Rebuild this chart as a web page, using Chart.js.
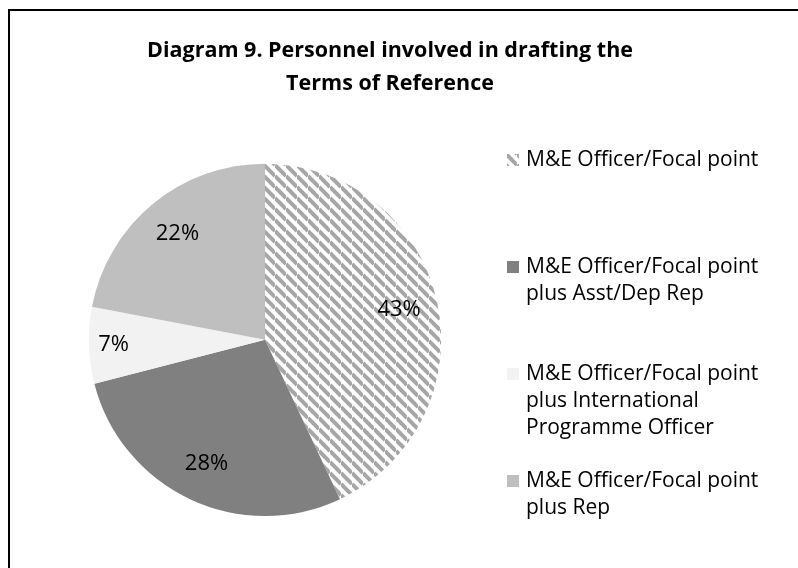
<!DOCTYPE html>
<html>
<head>
<meta charset="utf-8">
<script src="https://cdn.jsdelivr.net/npm/chart.js@4"></script>
<style>
  html, body { margin: 0; padding: 0; background: #fff; overflow: hidden; }
  #frame { position: absolute; left: 8px; top: 9px; width: 1000px; height: 1000px;
           border-left: 2px solid #000; border-top: 2px solid #000; }
  #wrap { position: absolute; left: 0; top: 0; width: 798px; height: 568px; }
</style>
</head>
<body>
<div id="frame"></div>
<div id="wrap"><canvas id="myChart" width="798" height="568"></canvas></div>
<script>
const titleLines = ['Diagram 9. Personnel involved in drafting the', 'Terms of Reference'];
const categories = [
  ['M&E Officer/Focal point'],
  ['M&E Officer/Focal point', 'plus Asst/Dep Rep'],
  ['M&E Officer/Focal point', 'plus International', 'Programme Officer'],
  ['M&E Officer/Focal point', 'plus Rep']
];
const shares = [43, 28, 7, 22];

// diagonal stripes for the first slice
function stripes() {
  const c = document.createElement('canvas');
  c.width = 11; c.height = 11;
  const g = c.getContext('2d');
  g.fillStyle = '#ffffff';
  g.fillRect(0, 0, 11, 11);
  g.strokeStyle = '#a6a6a6';
  g.lineWidth = 4;
  for (const k of [-11, 0, 11]) {
    g.beginPath();
    g.moveTo(0, k);
    g.lineTo(11, 11 + k);
    g.stroke();
  }
  return g.createPattern(c, 'repeat');
}
const sliceColors = [stripes(), '#808080', '#f2f2f2', '#bfbfbf'];

const textFont = '"Open Sans", sans-serif';

// legend drawn in its own layout box on the right
const sideLegend = {
  id: 'sideLegend',
  start(chart) {
    const box = {
      position: 'right', weight: 0, fullSize: false, options: {},
      left: 0, top: 0, right: 0, bottom: 0, width: 0, height: 0,
      isHorizontal() { return false; },
      update(maxWidth, maxHeight) { this.width = 250; this.height = maxHeight; },
      getPadding() { return { top: 0, left: 0, right: 0, bottom: 0 }; },
      draw() {
        const ctx = chart.ctx;
        const labels = chart.data.labels;
        const colors = chart.data.datasets[0].backgroundColor;
        ctx.save();
        ctx.font = '21px ' + textFont;
        ctx.textBaseline = 'alphabetic';
        ctx.textAlign = 'left';
        labels.forEach((lines, i) => {
          const base = 166 + i * 107;
          ctx.fillStyle = colors[i];
          ctx.fillRect(this.left + 47, base - 12, 12, 12);
          ctx.fillStyle = '#000';
          lines.forEach((t, j) => ctx.fillText(t, this.left + 66, base + j * 27));
        });
        ctx.restore();
      }
    };
    Chart.layouts.addBox(chart, box);
  }
};

// percentage labels inside the slices
const sliceLabels = {
  id: 'sliceLabels',
  afterDatasetsDraw(chart) {
    const ctx = chart.ctx;
    const data = chart.data.datasets[0].data;
    const total = data.reduce((a, b) => a + b, 0);
    ctx.save();
    ctx.font = '22px ' + textFont;
    ctx.fillStyle = '#000';
    ctx.textAlign = 'center';
    ctx.textBaseline = 'middle';
    chart.getDatasetMeta(0).data.forEach((arc, i) => {
      const p = arc.getProps(['x', 'y', 'startAngle', 'endAngle', 'outerRadius'], true);
      const mid = (p.startAngle + p.endAngle) / 2;
      const f = data[i] / total < 0.1 ? 0.86 : 0.78;
      ctx.fillText(Math.round(data[i] / total * 100) + '%',
        p.x + Math.cos(mid) * p.outerRadius * f,
        p.y + Math.sin(mid) * p.outerRadius * f);
    });
    ctx.restore();
  }
};

const ctx = document.getElementById('myChart').getContext('2d');
const chart = new Chart(ctx, {
  type: 'pie',
  data: {
    labels: categories,
    datasets: [{
      data: shares,
      backgroundColor: sliceColors,
      borderWidth: 0
    }]
  },
  options: {
    responsive: false,
    animation: false,
    layout: { padding: { left: 70, right: 88, top: 0, bottom: 52 } },
    plugins: {
      legend: { display: false },
      tooltip: { enabled: false },
      title: {
        display: true,
        text: titleLines,
        color: '#000',
        font: { family: textFont, size: 21.5, weight: 'bold', lineHeight: 1.55 },
        padding: { top: 34, bottom: 63 }
      }
    }
  },
  plugins: [sideLegend, sliceLabels]
});
</script>
</body>
</html>
